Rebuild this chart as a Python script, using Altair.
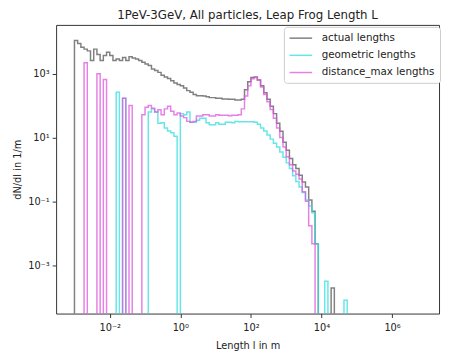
import altair as alt
import pandas as pd

# log-spaced bins: first edge 10^-3 m, width 1/11 decade
bin_start_exp = -3.0
bin_width_exp = 1.0 / 11.0

actual_lengths = [
    1.1e4, 8.9e3, 6.8e3, 5.9e3, 5.2e3, 2.6e3, 5.9e3, 4.0e3, 2.6e3, 3.7e3,
    4.7e3, 3.7e3, 2.6e3, 2.9e3, 2.6e3, 3.2e3, 2.6e3, 3.4e3, 3.1e3, 2.9e3,
    2.6e3, 2.3e3, 2.0e3, 1.8e3, 1.4e3, 1.26e3, 1.1e3, 890, 790, 710,
    600, 510, 460, 420, 355, 295, 263, 224, 204, 204,
    200, 190, 178, 178, 170, 170, 162, 162, 158, 158,
    151, 151, 158, 316, 562, 759, 794, 631, 417, 251,
    158, 95, 56, 28, 15.8, 7.1, 4.0, 2.2, 1.4, 1.07,
    0.66, 0.40, 0.28, 0.11, 0.049, 0.0047, 0, 0, 0, 0,
    1.9e-4, 0, 0, 0, 0, 0,
]

geometric_lengths = [
    0, 0, 0, 0, 0, 0, 0, 0, 0, 0,
    0, 0, 0, 263, 0, 170, 0, 0, 0, 0,
    0, 0, 0, 63, 79, 63, 28, 29, 20, 16,
    14, 11, 0, 56, 52, 63, 30, 30, 35, 40,
    40, 29, 25, 25, 29, 26, 26, 30, 30, 29,
    32, 31, 31, 31, 31, 31, 30, 26, 20, 16,
    12, 8.9, 6.6, 5.0, 3.5, 2.4, 1.6, 1.07, 0.63, 0.42,
    0.28, 0.19, 0.11, 0.071, 0.044, 0.0047, 0, 0, 3.1e-4, 0,
    0, 0, 0, 0, 7.9e-5, 0,
]

distance_max_lengths = [
    0, 0, 0, 2.2e3, 0, 0, 0, 1.0e3, 0, 660,
    0, 0, 0, 0, 0, 170, 0, 100, 0, 0,
    0, 52, 89, 100, 83, 63, 74, 52, 79, 95,
    66, 52, 59, 47, 42, 32, 30, 32, 47, 47,
    52, 52, 47, 47, 52, 50, 50, 50, 48, 50,
    50, 52, 79, 200, 417, 692, 759, 631, 380, 224,
    132, 76, 40, 20, 10, 5.0, 2.5, 1.4, 0.89, 0.71,
    0.50, 0.20, 0.10, 0.017, 0.0047, 0, 0, 0, 0, 0,
    0, 0, 0, 0, 0, 0,
]

series_names = ["actual lengths", "geometric lengths", "distance_max lengths"]
series_colors = ["#555555", "#33dddd", "#dd55dd"]
x_tick_values = [1e-2, 1e0, 1e2, 1e4, 1e6]
y_tick_values = [1e-3, 1e-1, 1e1, 1e3]

FLOOR = 1e-9


def outline(values, name):
    n = len(values)
    edges = [10 ** (bin_start_exp + k * bin_width_exp) for k in range(n + 1)]
    xs, ys = [edges[0]], [FLOOR]
    for k, v in enumerate(values):
        y = v if v > 0 else FLOOR
        xs += [edges[k], edges[k + 1]]
        ys += [y, y]
    xs.append(edges[n])
    ys.append(FLOOR)
    return pd.DataFrame({"L": xs, "N": ys, "idx": range(len(xs)), "series": name})


frames = [outline(actual_lengths, series_names[0]),
          outline(geometric_lengths, series_names[1]),
          outline(distance_max_lengths, series_names[2])]

sup = {"-4": "⁻⁴", "-3": "⁻³", "-2": "⁻²", "-1": "⁻¹", "0": "⁰", "1": "¹",
       "2": "²", "3": "³", "4": "⁴", "5": "⁵", "6": "⁶"}
expr_parts = ""
for k, s in sup.items():
    expr_parts += f"round(log(datum.value)/LN10) == {k} ? '10{s}' : "
label_expr = "(" + expr_parts + "'')"

x_scale = alt.Scale(type="log", domain=[10 ** -3.52, 10 ** 7.33], nice=False)
y_scale = alt.Scale(type="log", domain=[10 ** -4.52, 10 ** 4.53], nice=False)
color_scale = alt.Scale(domain=series_names, range=series_colors)

x_enc = alt.X("L:Q", scale=x_scale, title="Length l in m",
              axis=alt.Axis(values=x_tick_values, labelExpr=label_expr, grid=False,
                            domain=False, ticks=True, tickSize=4, labelPadding=5,
                            titlePadding=9))
y_enc = alt.Y("N:Q", scale=y_scale, title="dN/dl in 1/m",
              axis=alt.Axis(values=y_tick_values, labelExpr=label_expr, grid=False,
                            domain=False, ticks=True, tickSize=4, labelPadding=3,
                            titlePadding=5))

legend = alt.Legend(title=None, orient="none", legendX=232, legendY=2,
                    symbolType="M-1,0H3", symbolSize=132, symbolStrokeWidth=1.5,
                    symbolOpacity=0.75, labelFontSize=10.5, labelOffset=20.5,
                    strokeColor="#cccccc", fillColor="white", padding=5,
                    cornerRadius=3, rowPadding=5.5, labelColor="#222")

layers = []
for i, df in enumerate(frames):
    layers.append(
        alt.Chart(df).mark_line(interpolate="linear", strokeWidth=1.5, opacity=0.75, clip=True)
        .encode(x=x_enc, y=y_enc, order="idx:Q",
                color=alt.Color("series:N", scale=color_scale, legend=legend, sort=series_names))
    )

chart = alt.layer(*layers).properties(
    width=390, height=294,
    autosize=alt.AutoSizeParams(type="none"),
    padding={"left": 49, "top": 14, "right": 2, "bottom": 40},
    title=alt.TitleParams("1PeV-3GeV, All particles, Leap Frog Length L", fontSize=12,
                          fontWeight="normal", anchor="middle", offset=3, color="#222",
                          font="DejaVu Sans"),
).configure(font="DejaVu Sans").configure_view(
    stroke="#333333", strokeWidth=1
).configure_axis(
    labelFont="DejaVu Sans", titleFont="DejaVu Sans", labelFontSize=10, titleFontSize=10,
    titleFontWeight="normal", labelColor="#222", titleColor="#222",
    tickColor="#333", tickWidth=1,
).configure_legend(labelFont="DejaVu Sans")

chart.save("out.html", embed_options={"renderer": "svg", "actions": False})
